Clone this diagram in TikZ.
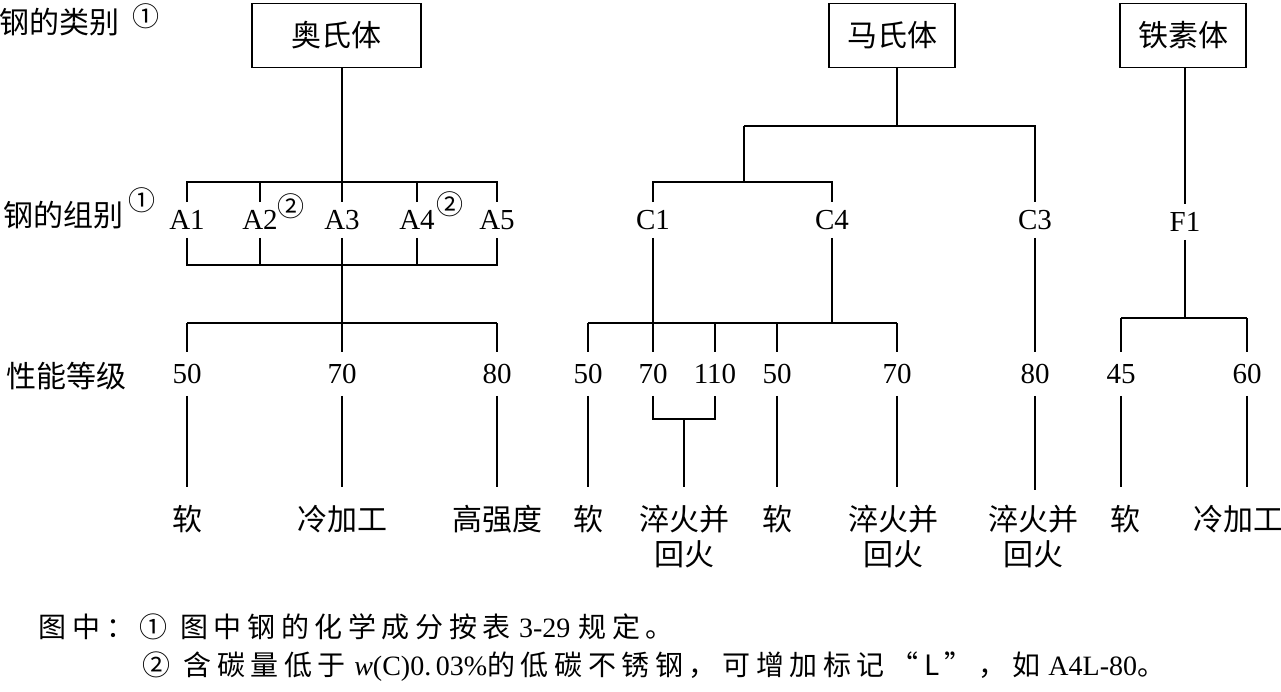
\documentclass[tikz,border=0pt]{standalone}
\usepackage{fontspec}
\setmainfont{Liberation Serif}
\newfontfamily\cjk{Noto Sans CJK SC}
\newfontfamily\cjksp[LetterSpace=20]{Noto Sans CJK SC}
\begin{document}
\begin{tikzpicture}[x=1pt,y=-1pt,
  line width=1.7pt,
  every node/.style={inner sep=0pt},
  typebox/.style={draw,minimum width=#1,minimum height=64pt,font=\cjk\fontsize{30}{32}\selectfont},
  grp/.style={minimum height=34pt,font=\fontsize{29}{30}\selectfont},
  grade/.style={minimum height=42pt,font=\fontsize{29}{30}\selectfont},
  cond/.style={anchor=north,align=center,inner ysep=0pt,yshift=-17pt,font=\cjk\fontsize{30}{35}\selectfont},
  rowlab/.style={anchor=west,font=\cjk\fontsize{30}{32}\selectfont},
  circ/.style={font=\cjk\fontsize{27}{28}\selectfont},
  note/.style={anchor=west,font=\fontsize{28}{30}\selectfont}]
\useasboundingbox (0,0) rectangle (1281,692);

% row labels
\node[rowlab] (lab1) at (-1,22) {钢的类别};
\node[circ] (lab1c) at (146,16) {①};
\node[rowlab] (lab2) at (3,215) {钢的组别};
\node[circ] (lab2c) at (142,200) {①};
\node[rowlab] (lab3) at (6,376) {性能等级};

% ---------- Austenite ----------
\node[typebox=169pt] (aus) at (336.5,35.5) {奥氏体};
\node[grp] (A1) at (187,220) {A1};
\node[grp] (A2) at (260,220) {A2};
\node[grp] (A3) at (342,220) {A3};
\node[grp] (A4) at (417,220) {A4};
\node[grp] (A5) at (497,220) {A5};
\node[circ] (c2a) at (291,206) {②};
\node[circ] (c2b) at (450,204) {②};
\coordinate (at1) at (187,182);
\coordinate (at2) at (260,182);
\coordinate (at4) at (417,182);
\coordinate (at5) at (497,182);
\coordinate (ab1) at (187,265);
\coordinate (ab2) at (260,265);
\coordinate (ab4) at (417,265);
\coordinate (ab5) at (497,265);
\draw (aus.south -| A3) -- (A3.north);
\draw (A1.north) -- (at1) -- (at5) -- (A5.north);
\draw (A2.north) -- (at2);
\draw (A4.north) -- (at4);
\draw (A1.south) -- (ab1) -- (ab5) -- (A5.south);
\draw (A2.south) -- (ab2);
\draw (A4.south) -- (ab4);
\coordinate (ap1) at (187,323);
\coordinate (ap2) at (342,323);
\coordinate (ap3) at (497,323);
\draw (A3.south) -- (ap2);
\node[grade] (g1) at (187,374) {50};
\node[grade] (g2) at (342,374) {70};
\node[grade] (g3) at (497,374) {80};
\draw (ap1) -- (ap3);
\draw (ap1) -- (g1.north);
\draw (ap2) -- (g2.north);
\draw (ap3) -- (g3.north);
\coordinate (ae1) at (187,487);
\coordinate (ae2) at (342,487);
\coordinate (ae3) at (497,487);
\draw (g1.south) -- (ae1);
\draw (g2.south) -- (ae2);
\draw (g3.south) -- (ae3);
\node[cond] (s1) at (ae1) {软};
\node[cond] (s2) at (ae2) {冷加工};
\node[cond] (s3) at (ae3) {高强度};

% ---------- Martensite ----------
\node[typebox=126pt] (mar) at (892,35.5) {马氏体};
\coordinate (mj) at (897,126);
\coordinate (mjl) at (744,126);
\coordinate (mjr) at (1035,126);
\coordinate (mk) at (744,182);
\coordinate (mkl) at (653,182);
\coordinate (mkr) at (832,182);
\node[grp] (C1) at (653,220) {C1};
\node[grp] (C4) at (832,220) {C4};
\node[grp] (C3) at (1035,220) {C3};
\draw (mar.south -| mj) -- (mj);
\draw (mjl) -- (mjr) -- (C3.north);
\draw (mjl) -- (mk);
\draw (C1.north) -- (mkl) -- (mkr) -- (C4.north);
\node[grade] (m1) at (588,374) {50};
\node[grade] (m2) at (653,374) {70};
\node[grade] (m3) at (715,374) {110};
\node[grade] (m4) at (777,374) {50};
\node[grade] (m5) at (897,374) {70};
\node[grade] (m6) at (1035,374) {80};
\coordinate (mp1) at (588,323);
\coordinate (mp3) at (715,323);
\coordinate (mp4) at (777,323);
\coordinate (mpc) at (832,323);
\coordinate (mp5) at (897,323);
\draw (C1.south) -- (m2.north);
\draw (C4.south) -- (mpc);
\draw (mp1) -- (mp5);
\draw (mp1) -- (m1.north);
\draw (mp3) -- (m3.north);
\draw (mp4) -- (m4.north);
\draw (mp5) -- (m5.north);
\draw (C3.south) -- (m6.north);
\coordinate (mq2) at (653,419);
\coordinate (mq3) at (715,419);
\coordinate (mqc) at (684,419);
\coordinate (me1) at (588,487);
\coordinate (me2) at (684,487);
\coordinate (me4) at (777,487);
\coordinate (me5) at (897,487);
\coordinate (me6) at (1035,490);
\draw (m2.south) -- (mq2) -- (mq3) -- (m3.south);
\draw (mqc) -- (me2);
\draw (m1.south) -- (me1);
\draw (m4.south) -- (me4);
\draw (m5.south) -- (me5);
\draw (m6.south) -- (me6);
\node[cond] (t1) at (me1) {软};
\node[cond] (t2) at (me2) {淬火并\\回火};
\node[cond] (t4) at (me4) {软};
\node[cond] (t5) at (893,487) {淬火并\\回火};
\node[cond] (t6) at (1033,487) {淬火并\\回火};

% ---------- Ferrite ----------
\node[typebox=126pt] (fer) at (1183,35.5) {铁素体};
\node[grp] (F1) at (1185,222) {F1};
\coordinate (fp) at (1185,318);
\coordinate (fp1) at (1121,318);
\coordinate (fp2) at (1247,318);
\draw (fer.south -| F1) -- (F1.north);
\draw (F1.south) -- (fp);
\draw (fp1) -- (fp2);
\node[grade] (f1) at (1121,374) {45};
\node[grade] (f2) at (1247,374) {60};
\draw (fp1) -- (f1.north);
\draw (fp2) -- (f2.north);
\coordinate (fe1) at (1121,487);
\coordinate (fe2) at (1247,487);
\draw (f1.south) -- (fe1);
\draw (f2.south) -- (fe2);
\node[cond] (u1) at (1125,487) {软};
\node[cond] (u2) at (1238,487) {冷加工};

% ---------- Notes ----------
\node[note] (n1) at (38,627) {{\cjksp 图中：①\hspace{0.45em}图中钢的化学成分按表}\hspace{0.3em}3-29\hspace{0.3em}{\cjksp 规定。}};
\node[note] (n2) at (142,667) {{\cjksp ②\hspace{0.45em}含碳量低于}\hspace{0.3em}\textit{w}(C)0.\,03\%{\cjksp 的低碳不锈钢，可增加标记“L”，如}\hspace{0.3em}A4L-80{\cjksp 。}};
\end{tikzpicture}
\end{document}
